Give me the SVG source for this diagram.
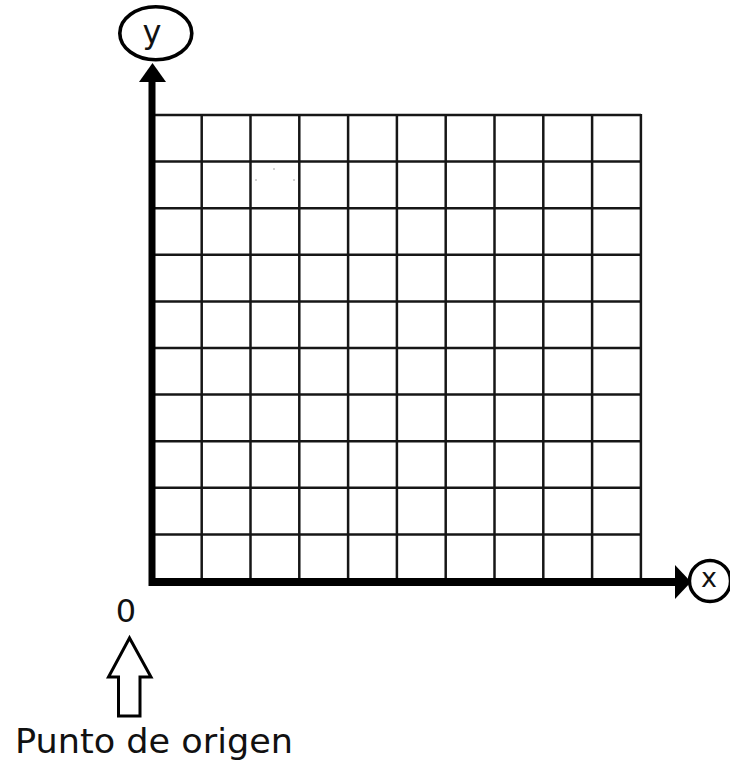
<svg xmlns="http://www.w3.org/2000/svg" width="730" height="767" viewBox="0 0 730 767">
<style>
.grid line{stroke:#161616;stroke-width:2.5}
.t{font-family:"DejaVu Sans","Liberation Sans",sans-serif;fill:#111}
.ax{fill:#000}
</style>
<rect width="730" height="767" fill="#fff"/>
<g id="grid" class="grid">
<line x1="152" y1="115" x2="641" y2="115"/>
<line x1="152" y1="161.6" x2="641" y2="161.6"/>
<line x1="152" y1="208.2" x2="641" y2="208.2"/>
<line x1="152" y1="254.8" x2="641" y2="254.8"/>
<line x1="152" y1="301.4" x2="641" y2="301.4"/>
<line x1="152" y1="348" x2="641" y2="348"/>
<line x1="152" y1="394.6" x2="641" y2="394.6"/>
<line x1="152" y1="441.2" x2="641" y2="441.2"/>
<line x1="152" y1="487.8" x2="641" y2="487.8"/>
<line x1="152" y1="534.4" x2="641" y2="534.4"/>
<line x1="201.7" y1="114" x2="201.7" y2="581"/>
<line x1="250.5" y1="114" x2="250.5" y2="581"/>
<line x1="299.3" y1="114" x2="299.3" y2="581"/>
<line x1="348.1" y1="114" x2="348.1" y2="581"/>
<line x1="396.9" y1="114" x2="396.9" y2="581"/>
<line x1="445.7" y1="114" x2="445.7" y2="581"/>
<line x1="494.5" y1="114" x2="494.5" y2="581"/>
<line x1="543.3" y1="114" x2="543.3" y2="581"/>
<line x1="592.1" y1="114" x2="592.1" y2="581"/>
<line x1="640.9" y1="114" x2="640.9" y2="581"/>
</g>
<g id="specks" fill="#999">
<circle cx="274" cy="169" r="0.8"/>
<circle cx="256" cy="180" r="0.8"/>
<circle cx="294" cy="180" r="0.8"/>
</g>
<g id="connectors">
<path class="ax" d="M148.5 82 H155.5 V578 H677 V586 H148.5 Z"/>
<polygon class="ax" points="139,82 166,82 152.5,63"/>
<polygon class="ax" points="675,565 675,599 691,582"/>
<path d="M129.5 638 L108.5 677 H118.5 V716 H140 V677 H151 Z" fill="none" stroke="#000" stroke-width="3" stroke-linejoin="miter"/>
</g>
<g id="node-y">
<ellipse cx="155.8" cy="33.3" rx="36" ry="26.5" fill="#fff" stroke="#000" stroke-width="3.6"/>
<text class="t" x="152" y="42.5" font-size="32" text-anchor="middle">y</text>
</g>
<g id="node-x">
<circle cx="710" cy="581" r="20.5" fill="#fff" stroke="#000" stroke-width="3.4"/>
<text class="t" x="709" y="587" font-size="27" text-anchor="middle">x</text>
</g>
<g id="origin">
<text class="t" x="126" y="621.5" font-size="32" text-anchor="middle">0</text>
</g>
<g id="label">
<text class="t" x="15" y="753" font-size="33" textLength="278" lengthAdjust="spacingAndGlyphs">Punto de origen</text>
</g>
</svg>
